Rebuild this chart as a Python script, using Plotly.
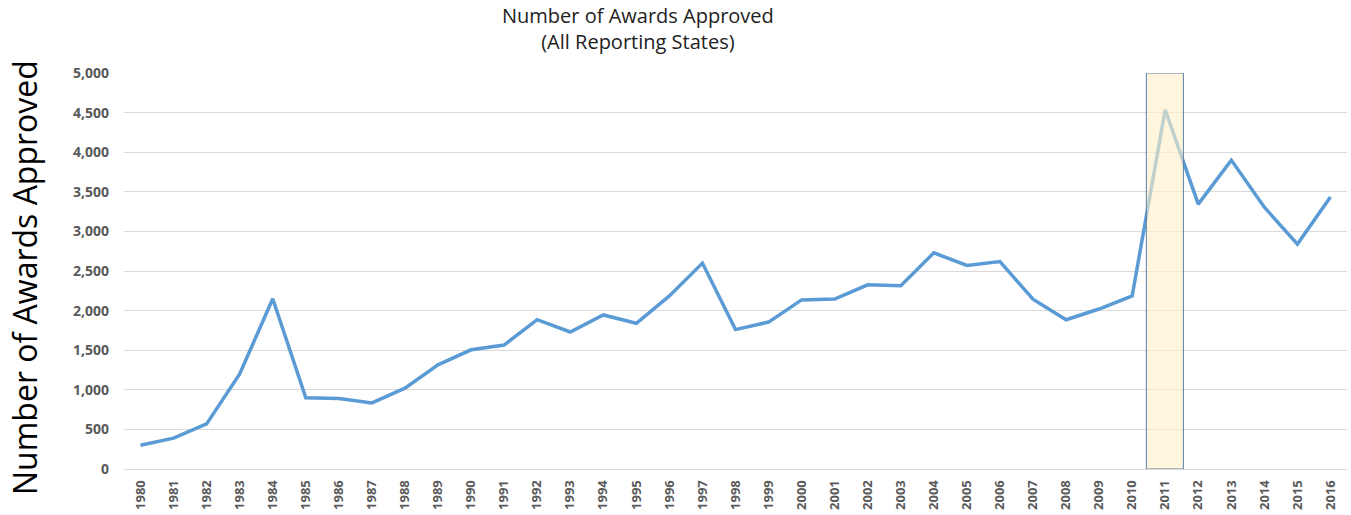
import plotly.graph_objects as go

years = [str(y) for y in range(1980, 2017)]
awards = [300, 390, 570, 1200, 2150, 900, 890, 835, 1020, 1315,
          1505, 1565, 1885, 1730, 1945, 1840, 2185, 2600, 1760, 1855,
          2135, 2145, 2325, 2315, 2730, 2570, 2620, 2145, 1885, 2020,
          2185, 4535, 3345, 3900, 3305, 2840, 3435]
y_ticks = list(range(0, 5001, 500))
y_tick_text = [f"{v:,}" for v in y_ticks]
highlight_year = "2011"
title_text = "Number of Awards Approved<br>(All Reporting States)"
y_title = "Number of Awards Approved"

fig = go.Figure()
fig.add_trace(go.Scatter(
    x=years, y=awards, mode="lines",
    line=dict(color="#5B9BD5", width=3.5),
    hoverinfo="x+y", showlegend=False,
))

hi = years.index(highlight_year)
fig.add_shape(type="rect", xref="x", yref="y",
              x0=hi - 0.57, x1=hi + 0.55, y0=0, y1=5000,
              fillcolor="rgba(255,240,200,0.62)",
              line=dict(color="#5A7FA8", width=1), layer="above")

y_tick_font = dict(family="Open Sans", size=14, color="#595959", weight="bold")
x_tick_font = dict(family="Open Sans", size=13, color="#595959", weight="bold")

fig.update_layout(
    width=1351, height=515,
    margin=dict(l=124, r=4, t=73, b=46),
    paper_bgcolor="white", plot_bgcolor="white",
    xaxis=dict(type="category", tickangle=-90, showgrid=False,
               tickfont=x_tick_font, ticklabelstandoff=5,
               showline=True, linecolor="#D9D9D9", linewidth=1,
               ticks="", range=[-0.5, len(years) - 0.5], automargin=False),
    yaxis=dict(range=[0, 5000], tickvals=y_ticks, ticktext=y_tick_text,
               showgrid=True, gridcolor="#D9D9D9", gridwidth=1,
               zeroline=False, ticks="", ticklen=0,
               tickfont=y_tick_font, ticklabelstandoff=14,
               automargin=False),
    annotations=[
        dict(text=title_text, xref="paper", yref="paper",
             x=(638 - 124) / 1223, y=(469 - 28) / 396,
             xanchor="center", yanchor="middle", showarrow=False,
             font=dict(family="Open Sans", size=20, color="#222222")),
        dict(text=y_title, textangle=-90,
             xref="paper", yref="paper", x=(24 - 124) / 1223, y=(469 - 278) / 396,
             xanchor="center", yanchor="middle", showarrow=False,
             font=dict(family="Open Sans", size=32, color="#000000")),
    ],
)

fig.write_html("out.html", config={"displayModeBar": False},
               post_script="document.body.style.margin='0';")
